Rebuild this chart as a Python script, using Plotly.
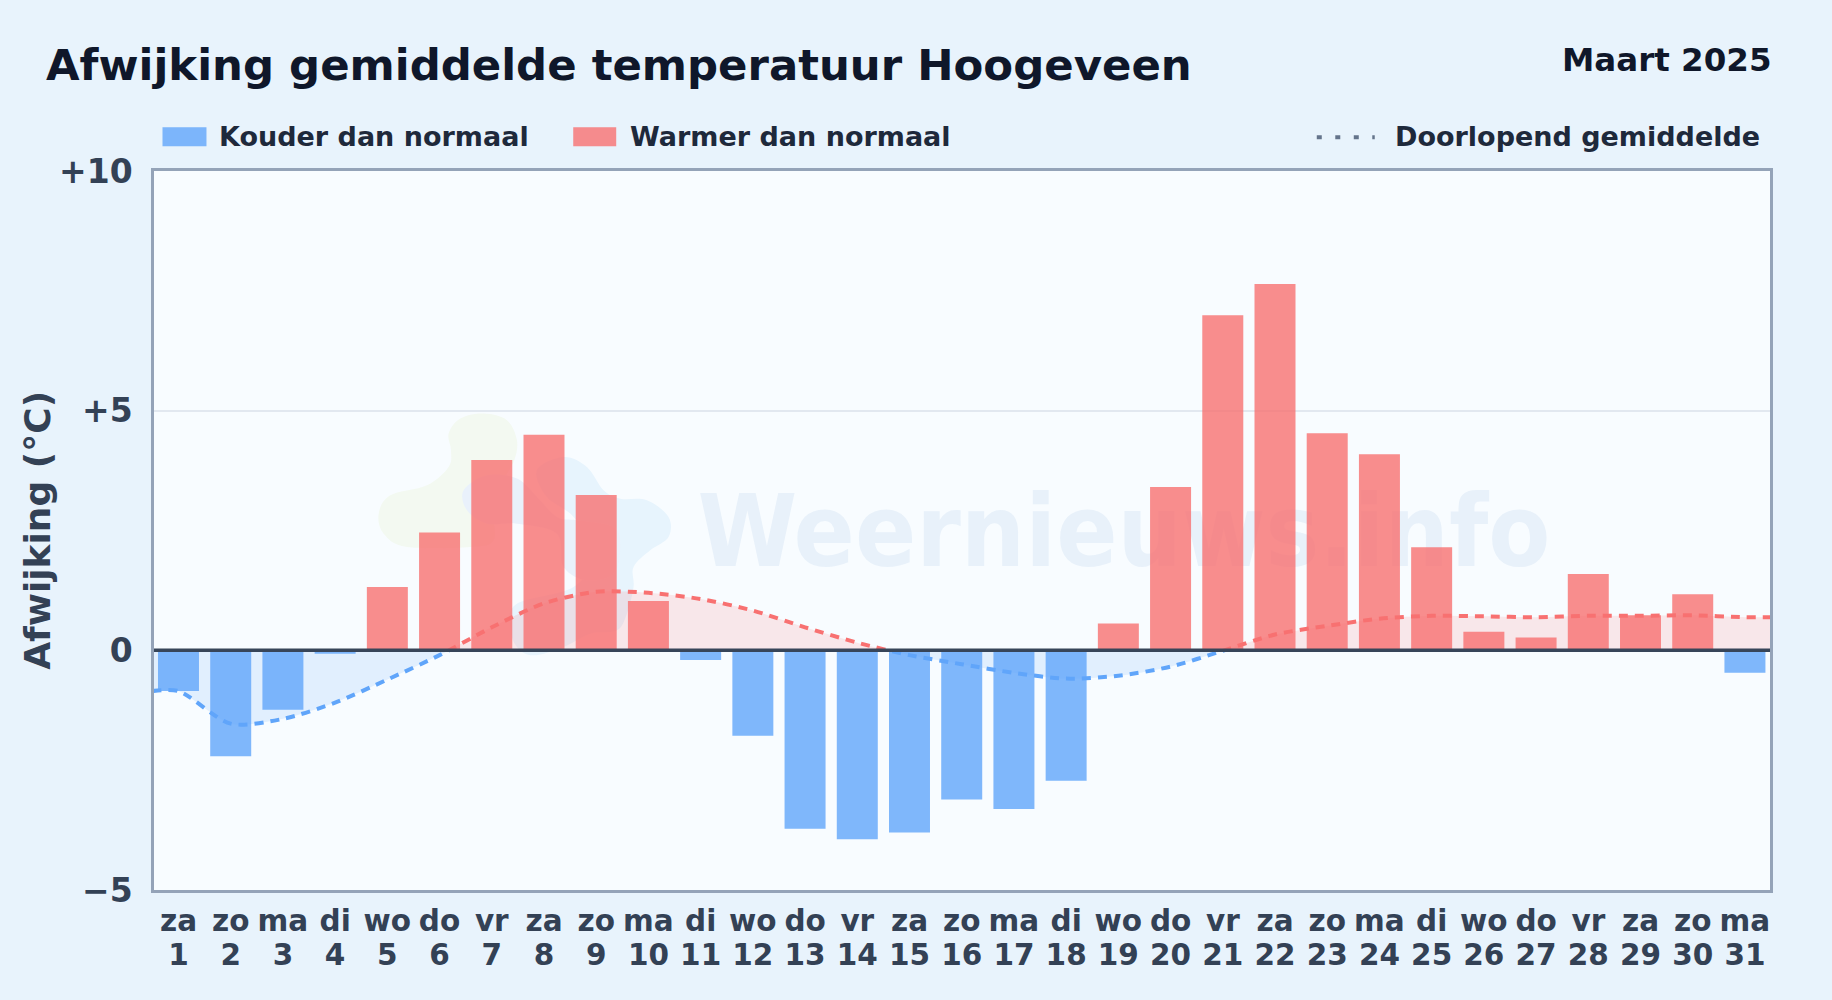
import plotly.graph_objects as go

# ---------- data ----------
weekdays = ["za","zo","ma","di","wo","do","vr","za","zo","ma","di","wo","do","vr","za","zo",
            "ma","di","wo","do","vr","za","zo","ma","di","wo","do","vr","za","zo","ma"]
days = list(range(1, 32))
afwijking = [-0.85,-2.21,-1.24,-0.07,1.32,2.46,3.97,4.50,3.24,1.03,-0.20,-1.78,-3.72,-3.94,-3.80,-3.11,
             -3.31,-2.72,0.56,3.41,6.99,7.64,4.53,4.09,2.15,0.39,0.27,1.59,0.73,1.17,-0.47]
gemiddelde = [-0.85,-1.53,-1.43,-1.09,-0.61,-0.10,0.48,0.98,1.22,1.20,1.07,0.83,0.48,0.16,-0.10,-0.29,
              -0.47,-0.59,-0.53,-0.34,-0.01,0.33,0.51,0.66,0.72,0.71,0.69,0.72,0.72,0.73,0.69]
y_ticks = [-5, 0, 5, 10]
y_ticklabels = ["−5", "0", "+5", "+10"]

# ---------- layout constants (px) ----------
W, H = 1832, 1000
L, R, T, B = 153.5, 1770.5, 170.8, 889.6
PW, PH = R - L, B - T
ZERO_FRAC = 5 / 15
X_RANGE = [0.531, 31.48]
SMOOTH = 0.8
BLUE, RED = "#60a5fa", "#f87171"
INK, INK2, TICK = "#0f172a", "#1e293b", "#334155"
FONT = "DejaVu Sans"

def px(x): return (x - L) / PW
def py(y): return (B - y) / PH

def smooth_path(points):
    """closed Catmull-Rom outline, points in picture pixels -> SVG path in paper units"""
    n = len(points)
    d = f"M {px(points[0][0]):.5f},{py(points[0][1]):.5f}"
    for i in range(n):
        p0, p1, p2, p3 = points[i-1], points[i], points[(i+1) % n], points[(i+2) % n]
        c1 = (p1[0] + (p2[0]-p0[0])/6, p1[1] + (p2[1]-p0[1])/6)
        c2 = (p2[0] - (p3[0]-p1[0])/6, p2[1] - (p3[1]-p1[1])/6)
        d += (f" C {px(c1[0]):.5f},{py(c1[1]):.5f} {px(c2[0]):.5f},{py(c2[1]):.5f}"
              f" {px(p2[0]):.5f},{py(p2[1]):.5f}")
    return d + " Z"

def z(points):  # crop coordinates of the logo -> picture pixels
    return [(360 + a/3, 400 + b/3) for a, b in points]

logo_green = z([(265,100),(300,55),(370,40),(440,60),(470,120),(462,180),(430,240),(400,330),(400,420),
                (330,440),(140,440),(70,400),(55,340),(90,285),(200,255),(265,200),(272,150)])
logo_blue = z([(530,210),(610,170),(680,200),(730,270),(780,295),(860,300),(925,350),(925,410),(870,450),
               (820,500),(820,560),(800,640),(770,690),(690,700),(610,740),(520,765),(470,740),(450,680),
               (470,610),(640,560),(700,460),(640,350),(560,290)])
logo_inner = z([(310,270),(380,225),(470,235),(530,290),(590,350),(650,360),(760,380),(780,440),(760,520),
                (680,540),(610,500),(590,400),(470,370),(380,370),(320,330)])

fig = go.Figure()
x_line = [0.5] + days + [31.5]
y_line = [gemiddelde[0]] + gemiddelde + [gemiddelde[-1]]

# fills (clipped to their half of the plot by the sub-axes)
fill_line = dict(shape="spline", smoothing=SMOOTH)
fig.add_trace(go.Scatter(x=x_line, y=y_line, yaxis="y", mode="none", fill="tozeroy", line=fill_line,
                         fillcolor="rgba(96,165,250,0.15)", showlegend=False, hoverinfo="skip"))
fig.add_trace(go.Scatter(x=x_line, y=y_line, yaxis="y2", mode="none", fill="tozeroy", line=fill_line,
                         fillcolor="rgba(248,113,113,0.15)", showlegend=False, hoverinfo="skip"))
# bars
fig.add_trace(go.Bar(x=days, y=afwijking, yaxis="y3", width=0.785, showlegend=False,
                     marker=dict(color=[BLUE if v < 0 else RED for v in afwijking], opacity=0.8, line_width=0)))
# lines (on the second x axis, which carries the day numbers)
fig.add_trace(go.Scatter(x=x_line, y=y_line, xaxis="x2", yaxis="y4", mode="lines", showlegend=False,
                         line=dict(color=BLUE, width=4, dash="9px,7px", shape="spline", smoothing=SMOOTH)))
fig.add_trace(go.Scatter(x=x_line, y=y_line, xaxis="x2", yaxis="y5", mode="lines", showlegend=False,
                         line=dict(color=RED, width=4, dash="9px,7px", shape="spline", smoothing=SMOOTH)))

hidden = dict(visible=False, fixedrange=True)
shapes = [
    dict(type="rect", xref="paper", yref="paper", x0=0, x1=1, y0=0, y1=1, layer="below",
         fillcolor="#f8fcff", line_width=0),
    dict(type="path", xref="paper", yref="paper", path=smooth_path(logo_green), layer="below",
         fillcolor="#f3f9f1", line_width=0),
    dict(type="path", xref="paper", yref="paper", path=smooth_path(logo_blue), layer="below",
         fillcolor="#e7f4fd", line_width=0),
    dict(type="path", xref="paper", yref="paper", path=smooth_path(logo_inner), layer="below",
         fillcolor="#e9f1fb", line_width=0),
    dict(type="rect", xref="paper", yref="paper", x0=px(700), x1=px(1548), y0=py(584), y1=py(464), layer="below",
         fillcolor="rgba(0,0,0,0)", line_width=0,
         label=dict(text="<b>Weernieuws.info</b>", textposition="middle center",
                    font=dict(family="DejaVu Sans Condensed", size=100.5, color="rgba(100,150,205,0.10)"))),
    # zero line
    dict(type="line", xref="paper", yref="y3", x0=0, x1=1, y0=0, y1=0, layer="above",
         line=dict(color="#374559", width=3.5)),
    # legend swatches
    dict(type="rect", xref="paper", yref="paper", x0=px(162), x1=px(206), y0=py(146), y1=py(127),
         fillcolor="rgba(96,165,250,0.8)", line_width=0),
    dict(type="rect", xref="paper", yref="paper", x0=px(573), x1=px(616), y0=py(146), y1=py(127),
         fillcolor="rgba(248,113,113,0.8)", line_width=0),
    dict(type="line", xref="paper", yref="paper", x0=px(1317), x1=px(1375), y0=py(137), y1=py(137),
         line=dict(color="#64748b", width=4, dash="5px,13.5px")),
]

def text(s, x, y, size, color, anchor="left", angle=0):
    return dict(text=f"<b>{s}</b>", x=px(x), y=py(y), xref="paper", yref="paper", xanchor=anchor, yanchor="middle",
                showarrow=False, textangle=angle, font=dict(family=FONT, size=size, color=color))

annotations = [
    text("Afwijking gemiddelde temperatuur Hoogeveen", 43, 65, 43.4, INK),
    text("Maart 2025", 1774.5, 60, 32.5, INK, anchor="right"),
    text("Kouder dan normaal", 216.5, 136.5, 27, INK2),
    text("Warmer dan normaal", 627.5, 136.5, 27, INK2),
    text("Doorlopend gemiddelde", 1393, 136.5, 27, INK2),
    text("Afwijking (°C)", 37, 530, 36, TICK, anchor="center", angle=-90),
]

x_common = dict(domain=[0, 1], range=X_RANGE, anchor="y3", tickmode="array", tickvals=days, tickangle=0,
                tickfont=dict(family=FONT, size=29.5, color=TICK), showgrid=False, zeroline=False,
                ticks="outside", tickcolor="rgba(0,0,0,0)", fixedrange=True)

fig.update_layout(
    width=W, height=H, autosize=False, showlegend=False,
    margin=dict(l=L, r=W-R, t=T, b=H-B, pad=0),
    paper_bgcolor="#e8f3fc", plot_bgcolor="rgba(0,0,0,0)",
    bargap=0.215, shapes=shapes, annotations=annotations,
    font=dict(family=FONT),
    xaxis=dict(ticktext=[f"<b>{w}</b>" for w in weekdays], ticklen=3,
               showline=True, linecolor="#94a3b8", linewidth=2.5, mirror=True, **x_common),
    xaxis2=dict(ticktext=[f"<b>{d}</b>" for d in days], ticklen=39, side="bottom", **x_common),
    yaxis=dict(domain=[0, ZERO_FRAC], range=[-5, 0], anchor="x", **hidden),
    yaxis2=dict(domain=[ZERO_FRAC, 1], range=[0, 10], anchor="x", **hidden),
    yaxis3=dict(domain=[0, 1], range=[-5, 10], anchor="x", tickmode="array", tickvals=y_ticks,
                ticktext=[f"<b>{t}</b>" for t in y_ticklabels],
                tickfont=dict(family=FONT, size=33, color=TICK),
                showgrid=True, gridcolor="#e2e8f0", gridwidth=1.5, zeroline=False,
                ticks="outside", ticklen=12, tickcolor="rgba(0,0,0,0)",
                showline=True, linecolor="#94a3b8", linewidth=2.5, mirror=True, fixedrange=True),
    yaxis4=dict(domain=[0, ZERO_FRAC], range=[-5, 0], anchor="x2", **hidden),
    yaxis5=dict(domain=[ZERO_FRAC, 1], range=[0, 10], anchor="x2", **hidden),
)

fig.write_html("out.html", post_script="document.body.style.margin='0';",
               config=dict(displayModeBar=False))
